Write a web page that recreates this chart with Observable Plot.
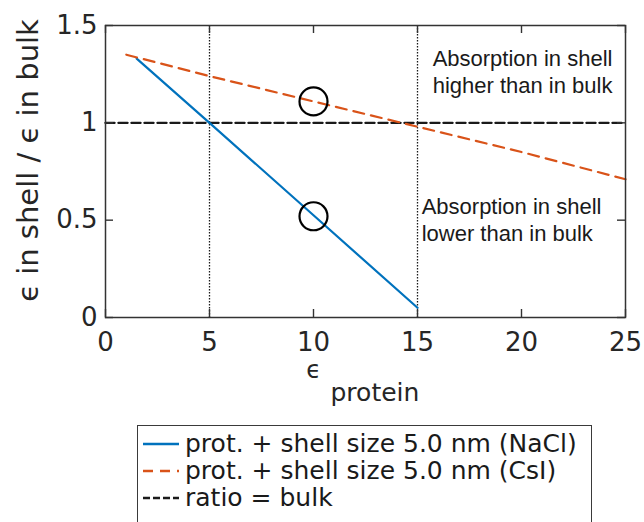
<!DOCTYPE html>
<html>
<head>
<meta charset="utf-8">
<script src="https://cdn.jsdelivr.net/npm/d3@7"></script>
<script src="https://cdn.jsdelivr.net/npm/@observablehq/plot@0.6"></script>
<style>
  html, body { margin: 0; padding: 0; background: white; }
  #wrap { position: relative; width: 644px; height: 522px; overflow: hidden; }
  #legend {
    position: absolute; left: 137px; top: 425px; width: 453px; height: 120px;
    border: 1.5px solid #3a3a3a; background: white;
    font-family: "DejaVu Sans", sans-serif; font-size: 25px; color: #1a1a1a;
  }
  .row { position: absolute; left: 0; height: 27px; line-height: 27px; display: flex; align-items: center; white-space: nowrap; }
  .row svg { margin-left: 5px; margin-right: 6px; }
</style>
</head>
<body>
<div id="wrap">
  <div id="chart"></div>
  <div id="legend"></div>
</div>
<script>
// Permittivity of the protein (x) and the ratio shell/bulk absorption (y)
const naclEps   = [1.5, 5, 10, 15];
const naclRatio = [1.33, 1.0, 0.525, 0.05];
const csiEps    = [1, 5, 10, 15, 20, 25];
const csiRatio  = [1.35, 1.24, 1.11, 0.98, 0.85, 0.71];
const bulkEps   = [0, 25];
const bulkRatio = [1, 1];

// Highlighted points at ε_protein = 10
const markEps   = [10, 10];
const markRatio = [1.11, 0.52];

// Reference permittivities shown as dotted verticals
const guideEps = [5, 15];

const xTicks = [0, 5, 10, 15, 20, 25];
const yTicks = [0, 0.5, 1, 1.5];

const seriesNames = [
  "prot. + shell size 5.0 nm (NaCl)",
  "prot. + shell size 5.0 nm (CsI)",
  "ratio = bulk"
];

const higherNote = [{x: 20.05, y: 1.265, text: "Absorption in shell\nhigher than in bulk"}];
const lowerNote  = [{x: 15.2, y: 0.505, text: "Absorption in shell\nlower than in bulk"}];

const nacl = naclEps.map((x, i) => ({x, y: naclRatio[i]}));
const csi  = csiEps.map((x, i) => ({x, y: csiRatio[i]}));
const bulk = bulkEps.map((x, i) => ({x, y: bulkRatio[i]}));
const marksAt = markEps.map((x, i) => ({x, y: markRatio[i]}));

const blue = "#0072BD", orange = "#D95319", ink = "#1a1a1a";
const innerH = 410 - 25 - 93, innerW = 644 - 105 - 19, tickLen = 8;
const noteFont = "Liberation Sans, Arial, sans-serif";

const chart = Plot.plot({
  width: 644,
  height: 410,
  marginLeft: 105,
  marginRight: 19,
  marginTop: 25,
  marginBottom: 93,
  x: {domain: [0, 25]},
  y: {domain: [0, 1.5]},
  style: {fontFamily: "DejaVu Sans, sans-serif", color: "#262626", background: "white"},
  marks: [
    Plot.ruleX(guideEps, {x: d => d, stroke: ink, strokeWidth: 1.3, strokeDasharray: "1.4,1.6"}),
    Plot.line(bulk, {x: "x", y: "y", stroke: ink, strokeWidth: 2.4, strokeDasharray: "9,4"}),
    Plot.line(nacl, {x: "x", y: "y", stroke: blue, strokeWidth: 2.2}),
    Plot.line(csi, {x: "x", y: "y", stroke: orange, strokeWidth: 2.2, strokeDasharray: "11,7"}),
    Plot.dot(marksAt, {x: "x", y: "y", r: 14, stroke: "black", strokeWidth: 2.2, fill: "none"}),
    Plot.text(higherNote, {x: "x", y: "y", text: "text", textAnchor: "middle", lineHeight: 1.2,
      fontSize: 22, fontFamily: noteFont, fill: ink}),
    Plot.text(lowerNote, {x: "x", y: "y", text: "text", textAnchor: "start", lineHeight: 1.2,
      fontSize: 22, fontFamily: noteFont, fill: ink}),
    // inward ticks on all four sides
    Plot.ruleX(xTicks, {x: d => d, stroke: "#333", strokeWidth: 1.4, insetTop: innerH - tickLen}),
    Plot.ruleX(xTicks, {x: d => d, stroke: "#333", strokeWidth: 1.4, insetBottom: innerH - tickLen}),
    Plot.ruleY(yTicks, {y: d => d, stroke: "#333", strokeWidth: 1.4, insetRight: innerW - tickLen}),
    Plot.ruleY(yTicks, {y: d => d, stroke: "#333", strokeWidth: 1.4, insetLeft: innerW - tickLen}),
    Plot.frame({stroke: "#333", strokeWidth: 1.5}),
    Plot.axisX({ticks: xTicks, tickSize: 0, tickPadding: 15, fontSize: 26, label: null}),
    Plot.axisY({ticks: yTicks, tickSize: 0, tickPadding: 8, fontSize: 26, label: null,
      tickFormat: d => String(d)}),
    Plot.text(["ϵ in shell / ϵ in bulk"], {frameAnchor: "left", textAnchor: "middle", dx: -77, dy: -11,
      rotate: -90, fontSize: 29, fill: "#262626"}),
    Plot.text(["ϵ"], {frameAnchor: "bottom", textAnchor: "middle", dx: -52, dy: 60, fontSize: 24, fill: "#262626"}),
    Plot.text(["protein"], {frameAnchor: "bottom", textAnchor: "start", dx: -35, dy: 83,
      fontSize: 25, fill: "#262626"})
  ]
});
document.getElementById("chart").appendChild(chart);

// Legend below the axes
const legendStyles = [
  {stroke: blue, dash: null},
  {stroke: orange, dash: "10,7"},
  {stroke: ink, dash: "7,3"}
];
const legend = document.getElementById("legend");
seriesNames.forEach((name, i) => {
  const row = document.createElement("div");
  row.className = "row";
  row.style.top = (4 + i * 27) + "px";
  const st = legendStyles[i];
  row.innerHTML =
    `<svg width="36" height="10"><line x1="0" x2="36" y1="5" y2="5" stroke="${st.stroke}" stroke-width="2.4"` +
    (st.dash ? ` stroke-dasharray="${st.dash}"` : "") + `/></svg><span>${name}</span>`;
  legend.appendChild(row);
});
</script>
</body>
</html>
